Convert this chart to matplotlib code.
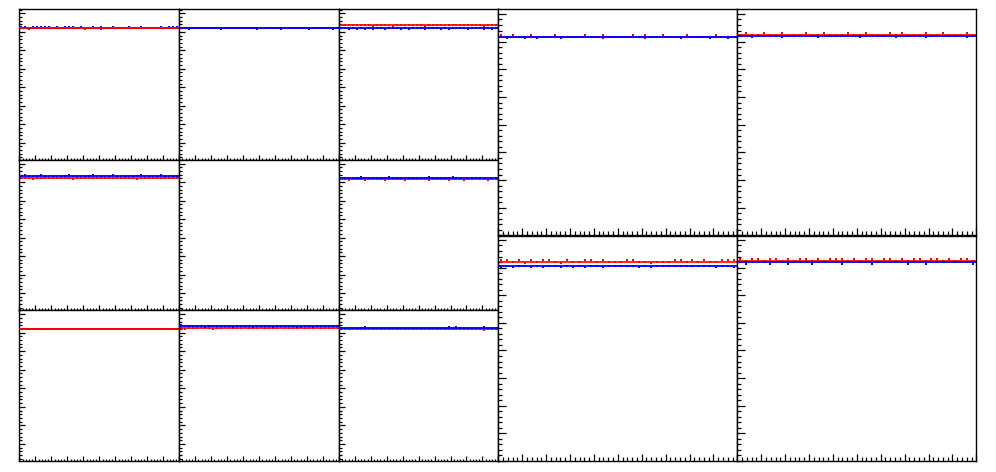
"""
Grid of ratio panels: 3x3 small pads on the left, 2x2 larger pads on the right.
"""

import numpy as np
import matplotlib
matplotlib.use("Agg")
import matplotlib.pyplot as plt
from matplotlib.ticker import MultipleLocator, NullFormatter

# panel order: small pads row by row (9), then the big pads row by row (4)
red_levels = [1.237, 1.243, 1.270, 1.248, None, 1.233, 1.234, 1.251, 1.240,
              1.436, 1.450, 1.442, 1.451]
blue_levels = [1.237, 1.243, 1.240, 1.262, None, 1.248, 1.234, 1.273, 1.251,
               1.436, 1.440, 1.413, 1.437]
blue_on_top = [False, True, True, True, None, True, False, True, True,
               True, True, True, True]

# bin-by-bin departures from the level, in units of 0.01
red_noise = [
    [0,0,-1,0,0,0,0,0,0,0,0,0,0,0,0,0,-1,0,0,0,-1,0,0,0,0,0,0,0,0,0,0,0,0,0,0,0,0,0,0,0],
    [0,0,0,0,0,0,0,0,0,0,0,0,0,0,0,0,0,0,0,0,0,0,0,0,0,0,0,0,0,0,0,0,0,0,0,0,0,0,0,0],
    [0,0,0,0,0,0,0,0,-1,0,0,0,0,-1,0,0,0,0,0,0,0,-1,0,0,0,0,0,0,0,0,0,0,0,0,0,0,-1,0,0,0],
    [0,0,0,-1,0,0,0,0,0,0,0,0,0,-1,0,0,0,0,0,0,0,0,0,0,0,0,0,0,0,-1,0,0,0,0,0,0,0,0,0,0],
    None,
    [0,0,-1,0,0,0,-1,0,1,0,0,-1,0,0,0,0,-1,0,0,0,1,0,-1,0,0,0,0,-1,0,0,0,-1,0,0,1,0,0,-1,0,0],
    [0,0,0,0,0,0,0,0,0,0,0,0,0,0,0,0,0,0,0,0,0,0,0,0,0,0,0,0,0,0,0,0,0,0,0,0,0,0,0,0],
    [0,-1,0,0,0,1,0,0,-1,0,0,1,0,0,0,0,1,0,0,0,1,0,0,0,0,1,0,0,0,0,1,0,0,0,1,0,0,0,0,0],
    [0,0,0,0,0,0,0,0,0,0,0,0,0,0,0,0,0,0,0,0,0,0,0,0,0,0,0,0,0,0,0,0,0,0,0,0,-1,0,0,0],
    [1,0,1,0,0,1,0,0,0,1,0,0,0,0,1,0,0,1,0,0,0,0,1,0,1,0,0,1,0,0,0,1,0,0,0,0,1,0,0,0],
    [0,1,0,0,1,0,0,1,0,0,0,1,0,0,1,0,0,0,1,0,0,1,0,0,0,1,0,1,0,0,0,1,0,0,1,0,0,0,1,0],
    [1,1,0,1,-1,1,0,1,1,0,-1,1,0,0,1,1,0,1,0,0,0,1,1,0,0,-1,0,0,0,1,1,0,1,0,1,0,0,1,1,1],
    [1,0,1,1,0,1,1,0,1,0,1,1,0,1,0,1,1,1,0,1,0,1,1,0,1,1,0,1,0,1,1,0,1,1,0,1,0,1,1,0],
]
blue_noise = [
    [2,1,0,2,2,2,2,1,0,2,0,1,2,2,0,2,0,0,2,0,2,0,0,2,0,0,0,1,0,0,2,0,0,0,0,2,0,2,2,2],
    [0,0,-1,0,0,0,0,0,0,0,-1,0,0,0,0,0,0,0,0,-1,0,0,0,0,0,-1,0,0,0,0,0,0,-1,0,0,0,0,0,-1,0],
    [0,0,-1,0,-1,0,-1,0,-1,0,0,-1,0,0,0,-1,0,-1,0,0,0,-1,0,0,0,-1,0,-1,0,0,0,0,-1,0,0,0,-1,0,-1,0],
    [0,1,0,0,0,1,0,0,0,0,0,0,1,0,0,0,0,0,1,0,0,0,0,1,0,0,0,0,0,0,1,0,0,0,0,1,0,0,0,0],
    None,
    [0,0,0,0,0,1,0,0,0,0,0,0,1,0,0,0,0,0,0,0,0,0,1,0,0,0,0,0,1,0,0,0,0,0,0,0,0,0,0,0],
    [0,0,0,0,0,0,0,1,0,0,0,0,0,0,1,0,0,0,0,0,0,0,0,0,0,1,0,0,0,0,0,0,1,0,0,0,0,0,0,0],
    [1,0,0,0,0,0,-1,0,0,0,0,0,0,-1,0,0,0,0,-1,0,0,0,0,-1,0,0,0,0,0,-1,-1,0,0,-1,0,0,0,0,0,0],
    [0,0,0,0,0,0,1,0,0,0,0,0,0,0,0,0,0,0,0,0,0,0,0,0,0,0,0,1,0,1,0,0,0,0,0,0,1,0,0,0],
    [0,-1,0,0,-1,0,-1,0,0,0,-1,0,0,0,0,0,0,-1,0,0,0,0,0,0,-1,0,0,0,0,0,-1,0,0,0,0,-1,0,0,-1,0],
    [0,0,-1,0,0,0,0,-1,0,0,0,0,0,-1,0,0,0,0,0,0,-1,0,0,0,0,0,-1,0,0,0,0,-1,0,0,0,0,0,0,-1,0],
    [-1,0,-1,0,0,-1,0,-1,0,0,-1,0,-1,0,-1,0,0,-1,0,0,0,0,0,-1,0,-1,0,0,0,0,0,0,0,0,0,0,-1,0,0,-1],
    [0,-1,0,0,0,-1,0,0,-1,0,0,0,-1,0,0,0,0,-1,0,0,0,0,-1,0,0,0,0,0,-1,0,0,-1,0,0,0,0,0,0,0,-1],
]

W, H = 996, 472
small_x = [19.3, 179.3, 339.0, 498.3]
small_y = [9.3, 159.6, 310.0, 461.0]
big_x = [498.3, 737.3, 976.3]
big_y = [9.5, 235.5, 461.0]


def pad(fig, x0, x1, y0, y1):
    return fig.add_axes([x0 / W, 1 - y1 / H, (x1 - x0) / W, (y1 - y0) / H])


def style(ax, big):
    ax.set_xlim(0, 10)
    if big:
        ax.set_ylim(0, 1.632)
        ymaj, ymin = 5.4, 2.7
        xmaj, xmin = 5.0, 2.6
    else:
        ax.set_ylim(-0.184, 1.444)
        ymaj, ymin = 4.3, 2.2
        xmaj, xmin = 3.4, 1.6
    ax.xaxis.set_major_locator(MultipleLocator(1))
    ax.xaxis.set_minor_locator(MultipleLocator(0.2))
    ax.yaxis.set_major_locator(MultipleLocator(0.2))
    ax.yaxis.set_minor_locator(MultipleLocator(0.04))
    ax.xaxis.set_major_formatter(NullFormatter())
    ax.yaxis.set_major_formatter(NullFormatter())
    ax.tick_params(axis="x", which="major", direction="in", length=xmaj, width=0.9)
    ax.tick_params(axis="x", which="minor", direction="in", length=xmin, width=0.9)
    ax.tick_params(axis="y", which="major", direction="in", length=ymaj, width=0.9)
    ax.tick_params(axis="y", which="minor", direction="in", length=ymin, width=0.9)
    for s in ax.spines.values():
        s.set_linewidth(1.0)
        s.set_color("black")


def draw(ax, i, big):
    if red_levels[i] is None:
        return
    nb = len(red_noise[i])
    x = (np.arange(nb) + 0.5) * 10 / nb
    red = red_levels[i] + 0.01 * np.array(red_noise[i])
    blue = blue_levels[i] + 0.01 * np.array(blue_noise[i])
    zr, zb = (2, 3) if blue_on_top[i] else (3, 2)
    ms = 2.0 if big else 1.7
    ax.axhline(red_levels[i], color="#ff0000", lw=1.2, zorder=zr)
    ax.plot(x, red, ls="none", marker="s", ms=ms, mew=0, color="#ff0000", zorder=zr)
    ax.axhline(blue_levels[i], color="#0000ff", lw=1.3, zorder=zb)
    ax.plot(x, blue, ls="none", marker="s", ms=ms, mew=0, color="#0000ff", zorder=zb)


fig = plt.figure(figsize=(W / 100, H / 100), dpi=100)

k = 0
for r in range(3):
    for c in range(3):
        ax = pad(fig, small_x[c], small_x[c + 1], small_y[r], small_y[r + 1])
        style(ax, big=False)
        draw(ax, k, big=False)
        k += 1

for r in range(2):
    for c in range(2):
        ax = pad(fig, big_x[c], big_x[c + 1], big_y[r], big_y[r + 1])
        style(ax, big=True)
        draw(ax, k, big=True)
        k += 1

fig.savefig("out.png", dpi=100)
